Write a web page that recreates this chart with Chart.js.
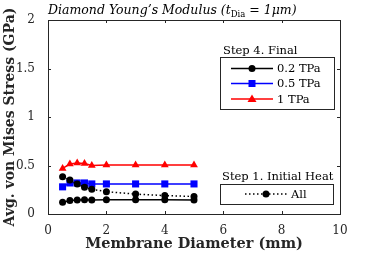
<!DOCTYPE html>
<html>
<head>
<meta charset="utf-8">
<script src="https://cdn.jsdelivr.net/npm/chart.js@4.4.0/dist/chart.umd.min.js"></script>
<style>
  html, body { margin: 0; padding: 0; background: #fff; }
  #wrap { width: 374px; height: 256px; }
</style>
</head>
<body>
<div id="wrap"><canvas id="stressChart"></canvas></div>
<script>
// Membrane diameter (mm)
const diameters = [0.5, 0.75, 1, 1.25, 1.5, 2, 3, 4, 5];

// Step 4. Final
const final02 = [0.12, 0.14, 0.145, 0.148, 0.145, 0.148, 0.148, 0.148, 0.145];
const final05 = [0.28, 0.32, 0.32, 0.32, 0.31, 0.31, 0.31, 0.31, 0.31];
const final1 = [0.47, 0.515, 0.525, 0.52, 0.5, 0.505, 0.505, 0.505, 0.505];

// Step 1. Initial Heat
const initialAll = [0.385, 0.35, 0.31, 0.275, 0.255, 0.23, 0.205, 0.19, 0.18];

const xTicks = [0, 2, 4, 6, 8, 10];
const yTicks = [0, 0.5, 1, 1.5, 2];

const SERIF = '"DejaVu Serif", "Liberation Serif", serif';
const AXIS_COLOR = '#262626';

function toPoints(values) {
    return diameters.map((d, i) => ({ x: d, y: values[i] }));
}

// Small marker helper for the hand-drawn legends
function drawMarker(ctx, style, x, y, color) {
    ctx.save();
    ctx.fillStyle = color;
    ctx.beginPath();
    if (style === 'circle') {
        ctx.arc(x, y, 3.5, 0, Math.PI * 2);
    } else if (style === 'rect') {
        ctx.rect(x - 3.5, y - 3.5, 7, 7);
    } else {
        ctx.moveTo(x, y - 4.5);
        ctx.lineTo(x + 4.5, y + 3);
        ctx.lineTo(x - 4.5, y + 3);
        ctx.closePath();
    }
    ctx.fill();
    ctx.restore();
}

function drawEntry(ctx, x0, x1, y, ds, label) {
    ctx.save();
    ctx.strokeStyle = ds.borderColor;
    ctx.lineWidth = 1.5;
    ctx.setLineDash(ds.borderDash || []);
    ctx.beginPath();
    ctx.moveTo(x0, y);
    ctx.lineTo(x1, y);
    ctx.stroke();
    ctx.restore();
    drawMarker(ctx, ds.pointStyle, (x0 + x1) / 2, y, ds.pointBackgroundColor);
    ctx.fillStyle = '#000';
    ctx.font = '11.5px ' + SERIF;
    ctx.textAlign = 'left';
    ctx.textBaseline = 'middle';
    ctx.fillText(label, x1 + 4, y + 1);
}

// Box, inward ticks, title and the two legends
const framePlugin = {
    id: 'frame',
    afterDraw(chart) {
        const { ctx, chartArea: a, scales } = chart;
        const xs = scales.x, ys = scales.y;
        ctx.save();
        ctx.strokeStyle = AXIS_COLOR;
        ctx.lineWidth = 1;
        ctx.strokeRect(a.left + 0.5, a.top + 0.5, a.right - a.left, a.bottom - a.top);

        const tl = 3;
        ctx.beginPath();
        xTicks.forEach(v => {
            const px = Math.round(xs.getPixelForValue(v)) + 0.5;
            ctx.moveTo(px, a.bottom); ctx.lineTo(px, a.bottom - tl);
            ctx.moveTo(px, a.top); ctx.lineTo(px, a.top + tl);
        });
        yTicks.forEach(v => {
            const py = Math.round(ys.getPixelForValue(v)) + 0.5;
            ctx.moveTo(a.left, py); ctx.lineTo(a.left + tl, py);
            ctx.moveTo(a.right, py); ctx.lineTo(a.right - tl, py);
        });
        ctx.stroke();

        // Title with subscript
        ctx.fillStyle = '#000';
        ctx.textBaseline = 'alphabetic';
        ctx.textAlign = 'left';
        let tx = a.left;
        const ty = 14;
        const parts = [
            ['Diamond Young\u2019s Modulus (', 'italic 12.5px ' + SERIF, 0],
            ['t', 'italic 12.5px ' + SERIF, 0],
            ['Dia', '8.5px ' + SERIF, 3],
            [' = 1', 'italic 12.5px ' + SERIF, 0],
            ['\u03bcm)', 'italic 12.5px ' + SERIF, 0]
        ];
        parts.forEach(([txt, font, dy]) => {
            ctx.font = font;
            ctx.fillText(txt, tx, ty + dy);
            tx += ctx.measureText(txt).width;
        });

        // Legend: Step 4. Final
        const ds = chart.data.datasets;
        ctx.font = '11.5px ' + SERIF;
        ctx.textBaseline = 'middle';
        ctx.fillText('Step 4. Final', 223, 51);
        ctx.fillStyle = '#fff';
        ctx.fillRect(220, 57, 114, 52);
        ctx.strokeStyle = AXIS_COLOR;
        ctx.strokeRect(220.5, 57.5, 114, 52);
        drawEntry(ctx, 231, 273, 68.5, ds[1], '0.2 TPa');
        drawEntry(ctx, 231, 273, 83.5, ds[2], '0.5 TPa');
        drawEntry(ctx, 231, 273, 99, ds[3], '1 TPa');

        // Legend: Step 1. Initial Heat
        ctx.fillStyle = '#000';
        ctx.font = '11.5px ' + SERIF;
        ctx.fillText('Step 1. Initial Heat', 222, 177);
        ctx.fillStyle = '#fff';
        ctx.fillRect(220, 184, 113, 20);
        ctx.strokeStyle = AXIS_COLOR;
        ctx.strokeRect(220.5, 184.5, 113, 20);
        drawEntry(ctx, 245, 287, 194, ds[0], 'All');
        ctx.restore();
    }
};

const common = {
    fill: false,
    borderWidth: 1.5,
    tension: 0
};

new Chart(document.getElementById('stressChart'), {
    type: 'line',
    data: {
        datasets: [
            Object.assign({}, common, {
                label: 'All',
                data: toPoints(initialAll),
                borderColor: '#000',
                borderDash: [1.5, 2.5],
                pointStyle: 'circle',
                pointRadius: 3.5,
                pointBackgroundColor: '#000',
                pointBorderWidth: 0
            }),
            Object.assign({}, common, {
                label: '0.2 TPa',
                data: toPoints(final02),
                borderColor: '#000',
                pointStyle: 'circle',
                pointRadius: 3.5,
                pointBackgroundColor: '#000',
                pointBorderWidth: 0
            }),
            Object.assign({}, common, {
                label: '0.5 TPa',
                data: toPoints(final05),
                borderColor: '#0000ff',
                pointStyle: 'rect',
                pointRadius: 5,
                pointBackgroundColor: '#0000ff',
                pointBorderWidth: 0
            }),
            Object.assign({}, common, {
                label: '1 TPa',
                data: toPoints(final1),
                borderColor: '#ff0000',
                pointStyle: 'triangle',
                pointRadius: 4.5,
                pointBackgroundColor: '#ff0000',
                pointBorderWidth: 0
            })
        ]
    },
    options: {
        responsive: true,
        maintainAspectRatio: false,
        animation: false,
        devicePixelRatio: 1,
        layout: { padding: { left: 0, top: 20, right: 34, bottom: 0 } },
        plugins: {
            legend: { display: false },
            tooltip: { enabled: false }
        },
        scales: {
            x: {
                type: 'linear',
                min: 0,
                max: 10,
                afterFit: s => { s.height = 42; },
                afterBuildTicks: s => { s.ticks = xTicks.map(v => ({ value: v })); },
                grid: { display: false },
                border: { display: false },
                ticks: {
                    color: AXIS_COLOR,
                    font: { family: SERIF, size: 12 },
                    padding: 2,
                    maxRotation: 0,
                    callback: v => String(v)
                },
                title: {
                    display: true,
                    text: 'Membrane Diameter (mm)',
                    color: AXIS_COLOR,
                    font: { family: SERIF, size: 14.5, weight: 'bold' },
                    padding: { top: 0, bottom: 3 }
                }
            },
            y: {
                min: 0,
                max: 2,
                afterFit: s => { s.width = 48; },
                afterBuildTicks: s => { s.ticks = yTicks.map(v => ({ value: v })); },
                grid: { display: false },
                border: { display: false },
                ticks: {
                    color: AXIS_COLOR,
                    font: { family: SERIF, size: 12 },
                    padding: 5,
                    callback: v => String(v)
                },
                title: {
                    display: true,
                    text: 'Avg. von Mises Stress (GPa)',
                    color: AXIS_COLOR,
                    font: { family: SERIF, size: 14, weight: 'bold' },
                    padding: { top: 2, bottom: 0 }
                }
            }
        }
    },
    plugins: [framePlugin]
});
</script>
</body>
</html>
